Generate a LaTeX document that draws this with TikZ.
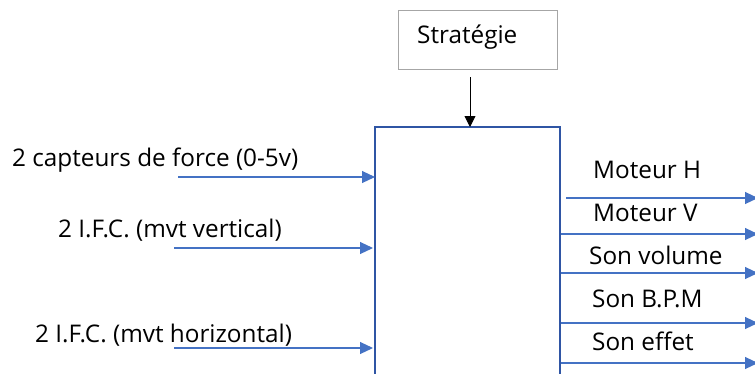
\documentclass[tikz,border=0pt]{standalone}
\usepackage{fontspec}
\setmainfont{Open Sans}
\usetikzlibrary{arrows.meta}
\definecolor{boxblue}{HTML}{2F55A4}
\definecolor{arrblue}{HTML}{4472C4}
\begin{document}
\begin{tikzpicture}[x=1pt,y=-1pt,
  lbl/.style={inner sep=0pt,font=\fontsize{24.3}{26}\selectfont,text=black},
  inarr/.style={draw=arrblue,line width=1.1pt,-{Triangle[length=13pt,width=12pt]}},
  ctrl/.style={draw=black,line width=0.9pt,-{Triangle[length=11pt,width=11pt]}}]
\useasboundingbox (0,0) rectangle (755,373);
\clip (0,0) rectangle (755,373);
\node[draw=gray!70,line width=0.8pt,minimum width=159pt,minimum height=59pt,anchor=north west,inner sep=0pt] (strat) at (398,10) {};
\node[lbl,anchor=west] (stratt) at (417,37) {Stratégie};
\draw[boxblue,line width=1.6pt] (375,400) -- (375,127) -- (560,127) -- (560,400);
\coordinate (mtop) at (470,127);
\coordinate (sfrom) at (470,77);
\draw[ctrl] (sfrom) -- (mtop);
% inputs
\node[lbl,anchor=west] (l1) at (12,160) {2 capteurs de force (0-5v)};
\node[lbl,anchor=west] (l2) at (58,230) {2 I.F.C. (mvt vertical)};
\node[lbl,anchor=west] (l3) at (35,335) {2 I.F.C. (mvt horizontal)};
\coordinate (a1) at (178,177); \coordinate (b1) at (375,177);
\coordinate (a2) at (174,248); \coordinate (b2) at (373,248);
\coordinate (a3) at (174,348); \coordinate (b3) at (373,348);
\draw[inarr] (a1) -- (b1);
\draw[inarr] (a2) -- (b2);
\draw[inarr] (a3) -- (b3);
% outputs
\node[lbl,anchor=west] (o1) at (593,170) {Moteur H};
\node[lbl,anchor=west] (o2) at (593,213) {Moteur V};
\node[lbl,anchor=west] (o3) at (589,255) {Son volume};
\node[lbl,anchor=west] (o4) at (592,299) {Son B.P.M};
\node[lbl,anchor=west] (o5) at (592,341) {Son effet};
\coordinate (c1) at (566,198); \coordinate (d1) at (758,198);
\coordinate (c2) at (561,234); \coordinate (d2) at (758,234);
\coordinate (c3) at (561,273); \coordinate (d3) at (758,273);
\coordinate (c4) at (561,323); \coordinate (d4) at (758,323);
\coordinate (c5) at (561,363); \coordinate (d5) at (758,363);
\foreach \i in {1,...,5} {\draw[inarr] (c\i) -- (d\i);}
\end{tikzpicture}
\end{document}
